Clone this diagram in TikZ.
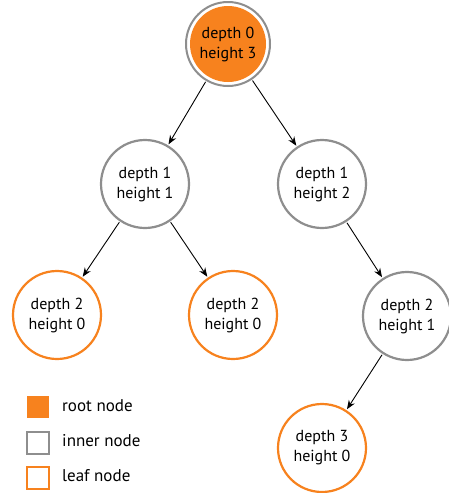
\documentclass[tikz,border=0pt]{standalone}
\usepackage{fontspec}
\setmainfont{PT Sans}
\usetikzlibrary{arrows.meta}
\definecolor{leaforange}{HTML}{F7821E}
\definecolor{innergray}{HTML}{8E8E8E}
\tikzset{
  nodefont/.style={font=\fontsize{16}{20}\selectfont},
  treenode/.style={circle, minimum size=88pt, inner sep=0pt, align=center,
    nodefont, line width=2.2pt, fill=white},
  innernode/.style={treenode, draw=innergray},
  leafnode/.style={treenode, draw=leaforange},
  edge/.style={-{Stealth[length=9pt,width=7pt]}, line width=0.9pt, black, shorten >=1pt, shorten <=1pt},
  legendbox/.style={minimum size=22pt, inner sep=0pt, line width=2.2pt},
  legendtext/.style={anchor=west, font=\fontsize{17}{20}\selectfont, inner sep=0pt}
}
\begin{document}
\begin{tikzpicture}[x=1pt, y=-1pt]
  \useasboundingbox (0,0) rectangle (449,493);

  % root: orange disc inside a white ring and a grey outline
  \node[circle, minimum size=84pt, inner sep=0pt, draw=innergray, line width=2pt, fill=white] (root) at (228,44) {};
  \node[circle, minimum size=76pt, inner sep=0pt, fill=leaforange, align=center,
        nodefont] (rootin) at (root) {depth 0\\height 3};

  % inner nodes
  \node[innernode] (l1) at (145,184) {depth 1\\height 1};
  \node[innernode] (r1) at (322,184) {depth 1\\height 2};
  \node[innernode] (rr) at (407,316) {depth 2\\height 1};

  % leaves
  \node[leafnode] (ll) at (57,315) {depth 2\\height 0};
  \node[leafnode] (lr) at (233,315) {depth 2\\height 0};
  \node[leafnode] (rrl) at (322,448) {depth 3\\height 0};

  % edges
  \draw[edge] (root) -- (l1);
  \draw[edge] (root) -- (r1);
  \draw[edge] (l1) -- (ll);
  \draw[edge] (l1) -- (lr);
  \draw[edge] (r1) -- (rr);
  \draw[edge] (rr) -- (rrl);

  % legend
  \node[legendbox, fill=leaforange] (kroot) at (38,407) {};
  \node[legendbox, draw=innergray, fill=white] (kinner) at (38,443) {};
  \node[legendbox, draw=leaforange, fill=white] (kleaf) at (38,478) {};
  \node[legendtext] (troot) at (62,406) {root node};
  \node[legendtext] (tinner) at (62,441) {inner node};
  \node[legendtext] (tleaf) at (62,476) {leaf node};
\end{tikzpicture}
\end{document}
